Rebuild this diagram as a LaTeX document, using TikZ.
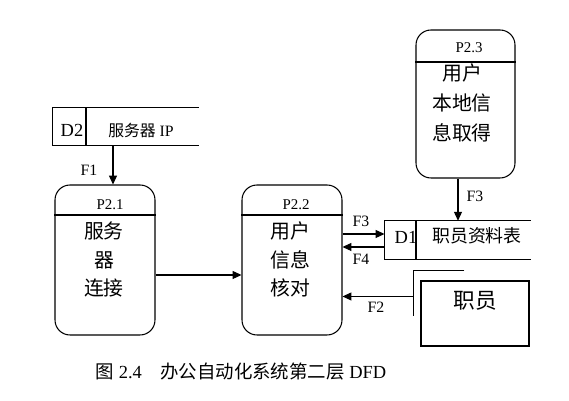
\documentclass[tikz,border=0pt]{standalone}
\usepackage{fontspec}
\setmainfont{Liberation Serif}
\newfontfamily\cjk{Noto Sans CJK SC}
\usetikzlibrary{positioning,arrows.meta}
\tikzset{proc/.style = {rectangle, rounded corners=8.5pt, draw=black, line width=0.6pt, minimum width=2cm, minimum height=3cm},
  store/.style = {rectangle, minimum width=2.9cm, minimum height=0.75cm, inner sep=0pt},
  ent/.style = {rectangle, draw=black, line width=0.6pt, minimum width=2.16cm, minimum height=1.3cm},
  pid/.style = {font=\fontsize{8.5}{9}\selectfont, inner sep=0pt},
  lbl/.style = {font=\fontsize{9}{9}\selectfont, inner sep=0pt},
  body/.style = {align=center, font=\cjk\fontsize{11.3}{16.2}\selectfont, inner sep=0pt},
  flow/.style = {line width=0.6pt, -{Triangle[length=5pt,width=4.5pt]}}}

\begin{document}
\begin{tikzpicture}[x=0.02cm, y=-0.02cm, line width=0.6pt]
        \useasboundingbox (0,0) rectangle (569,401);

        \node [proc] (p21) at (105,260) {};
        \node [proc] (p22) at (292,260) {};
        \node [proc, minimum width=1.98cm, minimum height=2.96cm] (p23) at (465.5,104) {};
        \draw (p21.west |- 0,215) -- (p21.east |- 0,215);
        \draw (p22.west |- 0,215) -- (p22.east |- 0,215);
        \draw (p23.west |- 0,62) -- (p23.east |- 0,62);

        \node [pid] (p21id) at (110,205) {P2.1};
        \node [pid] (p22id) at (296,205) {P2.2};
        \node [pid] (p23id) at (469,48) {P2.3};
        \node [body] (p21txt) at (104,259.5) {服务\\器\\连接};
        \node [body] (p22txt) at (290,259.5) {用户\\信息\\核对};
        \node [body, font=\cjk\fontsize{11.3}{17}\selectfont] (p23txt) at (462,103) {用户\\本地信\\息取得};

        \node [store] (d2) at (125.5,126.5) {};
        \draw (d2.north east) -- (d2.north west) -- (d2.south west) -- (d2.south east);
        \draw (86,0 |- d2.north) -- (86,0 |- d2.south);
        \node [inner sep=0pt, font=\fontsize{10.5}{11}\selectfont] (d2id) at (72,130) {D2};
        \node [inner sep=0pt, font=\fontsize{9}{10}\selectfont] (d2txt) at (141,130) {{\cjk 服务器} IP};

        \node [store] (d1) at (457.5,240) {};
        \draw (d1.north east) -- (d1.north west) -- (d1.south west) -- (d1.south east);
        \draw (416,0 |- d1.north) -- (416,0 |- d1.south);
        \node [inner sep=0pt, font=\fontsize{10.5}{11}\selectfont] (d1id) at (406,237) {D1};
        \node [inner sep=0pt, font=\cjk\fontsize{10.2}{11}\selectfont] (d1txt) at (477,236) {职员资料表};

        \node [ent] (staff) at (475,313.5) {};
        \draw ([shift={(44,-10)}]staff.north west) -- ([shift={(-7,-10)}]staff.north west) -- ([shift={(-7,36)}]staff.north west);
        \node [inner sep=0pt, font=\cjk\fontsize{12.3}{13}\selectfont] (stafftxt) at (475,301) {职员};

        \coordinate (f1s) at (113,0 |- d2.south);
        \coordinate (f3s) at (458,0 |- p23.south);
        \coordinate (f2s) at ([shift={(-7,16)}]staff.north west);

        \draw [flow] (f1s) -- (f1s |- p21.north);
        \draw [flow] (p21.east |- 0,275) -- (p22.west |- 0,275);
        \draw [flow] (f3s) -- (f3s |- d1.north);
        \draw [flow] (p22.east |- 0,234) -- (d1.west |- 0,234);
        \draw [flow] (d1.west |- 0,247) -- (p22.east |- 0,247);
        \draw [flow] (f2s) -- (f2s -| p22.east);

        \node [lbl] (f1) at (89,170) {F1};
        \node [lbl] (f3a) at (475,196) {F3};
        \node [lbl] (f3b) at (361,221) {F3};
        \node [lbl] (f4) at (361,259) {F4};
        \node [lbl] (f2) at (376,307) {F2};

        \node [inner sep=0pt, font=\fontsize{10.5}{11}\selectfont] (cap) at (241,372) {{\cjk 图} 2.4\quad{\cjk 办公自动化系统第二层} DFD};
    \end{tikzpicture}
\end{document}
